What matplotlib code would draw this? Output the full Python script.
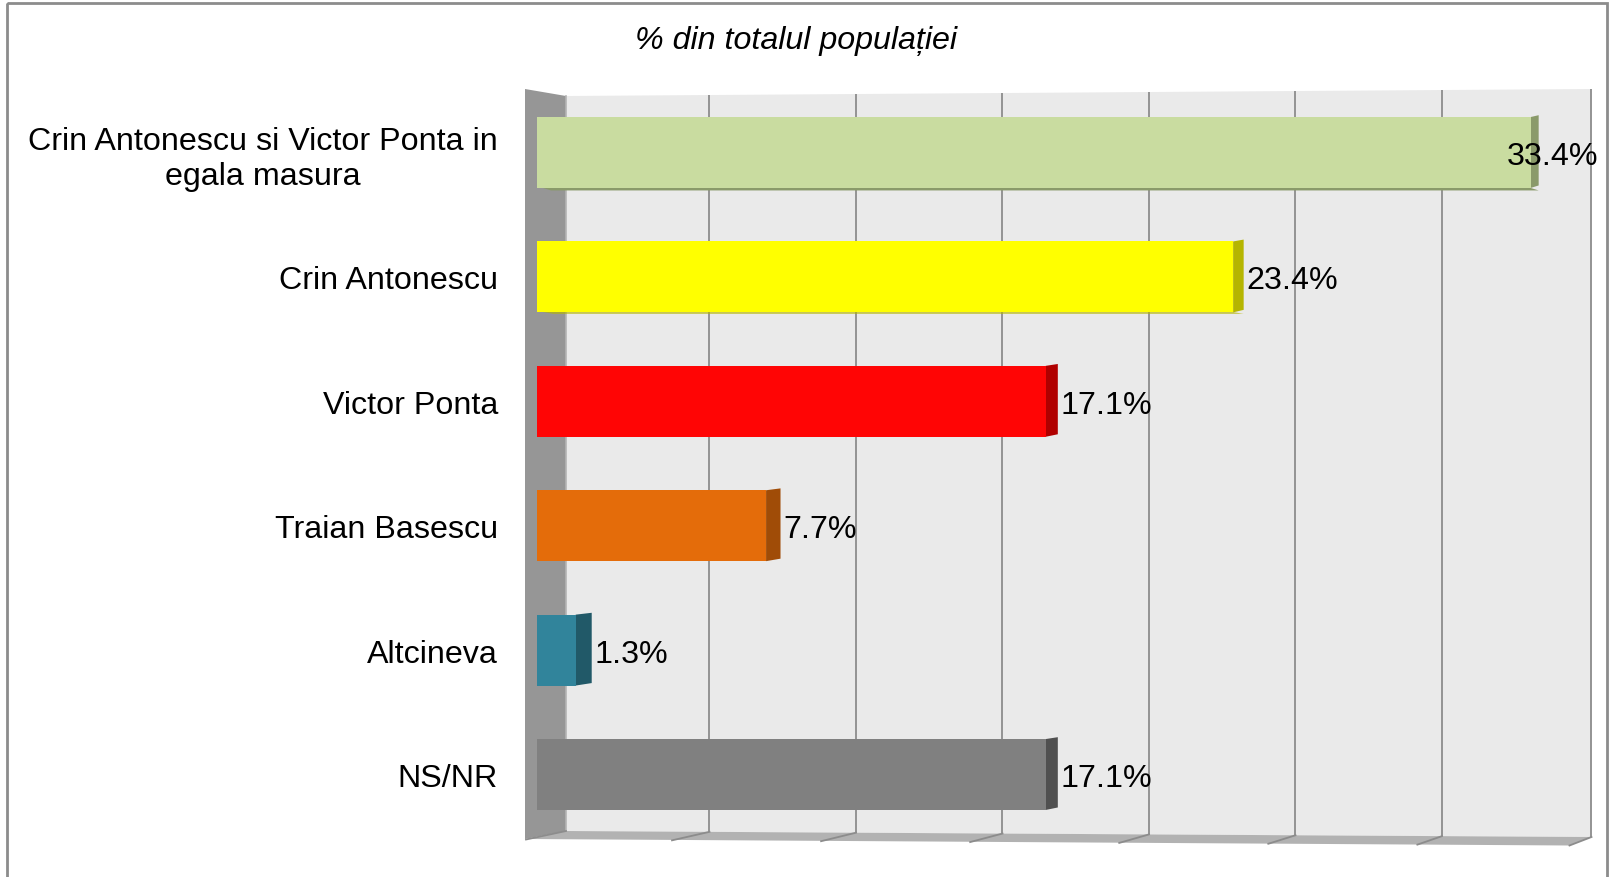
import matplotlib
matplotlib.use("Agg")
import matplotlib.pyplot as plt
from matplotlib.patches import Polygon, Rectangle
import numpy as np

# data
categories = [
    "Crin Antonescu si Victor Ponta in\negala masura",
    "Crin Antonescu",
    "Victor Ponta",
    "Traian Basescu",
    "Altcineva",
    "NS/NR",
]
values = [33.4, 23.4, 17.1, 7.7, 1.3, 17.1]
title = "% din totalul populației"

# styles
face_colors = ["#C9DCA0", "#FFFF00", "#FF0505", "#E46C0A", "#31849B", "#808080"]
side_colors = ["#8A9A6A", "#B5B500", "#B00000", "#A04C07", "#215968", "#505050"]
bottom_depth = [0.02, 0.01, 0, 0, 0, 0]  # bottom face visible on the upper bars
FONT = ["Liberation Sans", "DejaVu Sans"]
FS = 23.2

W, H = 1609, 878
fig = plt.figure(figsize=(W / 100, H / 100), dpi=100)

# ---- background: frame, walls, floor (pixel coordinates) ----
bg = fig.add_axes([0, 0, 1, 1], zorder=0)
bg.set_xlim(0, W)
bg.set_ylim(H, 0)
bg.axis("off")

bg.add_patch(Rectangle((7, 4), 1600, 900, fill=False, ec="#8C8C8C", lw=2.0))

X_MAX = 35
TICKS = np.arange(0, X_MAX + 1, 5)
BACK_X0, BACK_PX = 566, 29.3
back_x1 = BACK_X0 + X_MAX * BACK_PX


def back_top(x):
    return 97 - 7 * (x - BACK_X0) / (back_x1 - BACK_X0)


def back_bot(x):
    return 832 + 6 * (x - BACK_X0) / (back_x1 - BACK_X0)


def depth_dx(x):
    return -40 + 18 * (x - BACK_X0) / (back_x1 - BACK_X0)


# back wall
bg.add_patch(Polygon([(BACK_X0, back_top(BACK_X0)), (back_x1, back_top(back_x1)),
                      (back_x1, back_bot(back_x1)), (BACK_X0, back_bot(BACK_X0))],
                     closed=True, fc="#EAEAEA", ec="none"))
# floor
bg.add_patch(Polygon([(BACK_X0, back_bot(BACK_X0)), (back_x1, back_bot(back_x1)),
                      (back_x1 + depth_dx(back_x1), back_bot(back_x1) + 8.5),
                      (BACK_X0 + depth_dx(BACK_X0), back_bot(BACK_X0) + 8)],
                     closed=True, fc="#B2B2B2", ec="none"))
# left wall
bg.add_patch(Polygon([(525, 90), (BACK_X0, back_top(BACK_X0)),
                      (BACK_X0, back_bot(BACK_X0)), (525, 840)],
                     closed=True, fc="#969696", ec="none"))
bg.plot([BACK_X0, BACK_X0], [back_top(BACK_X0), back_bot(BACK_X0)], color="#B4B4B4", lw=1.2)

# gridlines on back wall + ticks on the floor
for t in TICKS:
    gx = BACK_X0 + t * BACK_PX - (3 if 0 < t < X_MAX else 0)
    if t > 0:
        bg.plot([gx, gx], [back_top(gx), back_bot(gx)], color="#8C8C8C", lw=1.3,
                solid_capstyle="butt")
    bg.plot([gx, gx + depth_dx(gx)], [back_bot(gx), back_bot(gx) + 8.5],
            color="#8C8C8C", lw=1.3)

# ---- bars (front plane, data coordinates) ----
X0, PX_PER_PCT = 537, 29.75
ROW0, ROW_STEP = 153.5, 124.4
ax = fig.add_axes([X0 / W, 1 - (ROW0 + ROW_STEP * 5.5) / H,
                   X_MAX * PX_PER_PCT / W, ROW_STEP * 6 / H], zorder=1)
ax.set_xlim(0, X_MAX)
ax.set_ylim(5.5, -0.5)
ax.patch.set_visible(False)
for s in ax.spines.values():
    s.set_visible(False)
ax.set_xticks([])

ypos = np.arange(len(categories))
bar_h = 0.57
ax.barh(ypos, values, height=bar_h, color=face_colors, zorder=3)

for i, v in enumerate(values):
    top, bot = i - bar_h / 2, i + bar_h / 2
    w = 0.55 - 0.0084 * v  # visible depth of the bar end
    ax.add_patch(Polygon([(v, top), (v + w, top - 0.015), (v + w, bot - 0.02), (v, bot)],
                         closed=True, fc=side_colors[i], ec="none", zorder=2))
    if bottom_depth[i] > 0:
        ax.add_patch(Polygon([(0.2, bot), (v, bot), (v + w, bot + bottom_depth[i]),
                              (0.2 + w, bot + bottom_depth[i])],
                             closed=True, fc=side_colors[i], ec="none", zorder=2))
    lx = min(v + w + 0.08, 32.6)
    ax.text(lx, i, f"{v:.1f}%", ha="left", va="center_baseline", fontsize=FS,
            family=FONT, color="black", zorder=5)

ax.set_yticks(ypos)
ax.set_yticklabels(categories, fontsize=FS, family=FONT)
ax.tick_params(axis="y", length=0, pad=28)
for lab in ax.get_yticklabels():
    lab.set_multialignment("center")

fig.text(796 / W, 1 - 41 / H, title, ha="center", va="center", fontsize=FS,
         style="italic", family=FONT)

fig.savefig("out.png", dpi=100)
